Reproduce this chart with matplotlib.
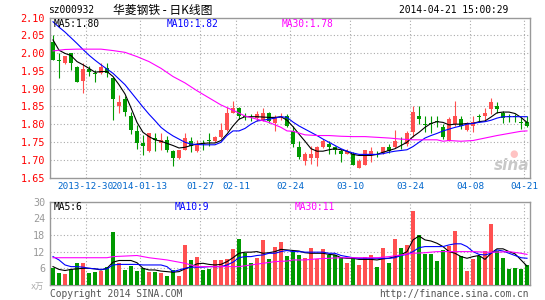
import numpy as np
import matplotlib.pyplot as plt

# daily K data, 2013-12-20 .. 2014-04-21
opens = [2.03, 1.98, 1.971, 2.00, 1.96, 1.922, 1.955, 1.943, 1.943, 1.959,
         1.93, 1.852, 1.872, 1.824, 1.782, 1.746, 1.724, 1.762, 1.746, 1.755,
         1.724, 1.705, 1.727, 1.754, 1.724, 1.745, 1.755, 1.752, 1.763, 1.783,
         1.832, 1.845, 1.822, 1.821, 1.817, 1.811, 1.832, 1.802, 1.818, 1.823,
         1.781, 1.735, 1.696, 1.705, 1.705, 1.735, 1.745, 1.735, 1.724, 1.717,
         1.715, 1.678, 1.686, 1.717, 1.720, 1.718, 1.735, 1.735, 1.745, 1.743,
         1.777, 1.823, 1.800, 1.803, 1.808, 1.793, 1.754, 1.800, 1.814, 1.783,
         1.795, 1.823, 1.823, 1.842, 1.852, 1.832, 1.823, 1.823, 1.806, 1.805]
highs = [2.05, 2.00, 1.993, 2.00, 1.965, 1.972, 1.965, 1.952, 1.973, 1.972,
         1.932, 1.883, 1.88, 1.835, 1.798, 1.77, 1.776, 1.776, 1.774, 1.766,
         1.727, 1.728, 1.776, 1.763, 1.756, 1.756, 1.774, 1.768, 1.802, 1.848,
         1.865, 1.847, 1.832, 1.828, 1.836, 1.846, 1.835, 1.825, 1.832, 1.828,
         1.795, 1.754, 1.721, 1.74, 1.740, 1.757, 1.754, 1.740, 1.731, 1.731,
         1.721, 1.703, 1.728, 1.735, 1.724, 1.737, 1.744, 1.783, 1.763, 1.781,
         1.851, 1.851, 1.823, 1.823, 1.823, 1.800, 1.819, 1.865, 1.823, 1.807,
         1.823, 1.828, 1.846, 1.873, 1.863, 1.837, 1.828, 1.828, 1.819, 1.823]
lows = [1.98, 1.93, 1.968, 1.952, 1.918, 1.888, 1.935, 1.92, 1.94, 1.932,
        1.812, 1.832, 1.822, 1.772, 1.731, 1.713, 1.722, 1.725, 1.727, 1.722,
        1.683, 1.703, 1.726, 1.721, 1.721, 1.728, 1.740, 1.750, 1.762, 1.781,
        1.830, 1.814, 1.812, 1.810, 1.810, 1.809, 1.803, 1.782, 1.812, 1.791,
        1.735, 1.702, 1.684, 1.688, 1.681, 1.733, 1.715, 1.717, 1.693, 1.715,
        1.684, 1.676, 1.684, 1.693, 1.707, 1.716, 1.718, 1.733, 1.730, 1.740,
        1.763, 1.800, 1.777, 1.774, 1.791, 1.759, 1.752, 1.796, 1.786, 1.780,
        1.777, 1.805, 1.810, 1.828, 1.831, 1.802, 1.807, 1.807, 1.787, 1.791]
closes = [1.98, 1.979, 1.992, 1.972, 1.92, 1.954, 1.946, 1.941, 1.96, 1.943,
          1.871, 1.863, 1.833, 1.783, 1.747, 1.739, 1.774, 1.755, 1.755, 1.727,
          1.705, 1.726, 1.762, 1.740, 1.743, 1.744, 1.752, 1.765, 1.783, 1.831,
          1.846, 1.823, 1.819, 1.819, 1.828, 1.832, 1.808, 1.818, 1.821, 1.796,
          1.744, 1.707, 1.716, 1.717, 1.735, 1.753, 1.737, 1.728, 1.717, 1.724,
          1.686, 1.696, 1.726, 1.724, 1.718, 1.735, 1.724, 1.754, 1.743, 1.774,
          1.833, 1.814, 1.799, 1.801, 1.806, 1.765, 1.814, 1.823, 1.795, 1.802,
          1.807, 1.821, 1.832, 1.863, 1.843, 1.818, 1.821, 1.821, 1.804, 1.794]
volumes = [6.0, 4.2, 3.8, 5.8, 7.8, 7.8, 4.2, 4.6, 5.0, 6.6,
           19.0, 7.8, 5.4, 6.8, 5.0, 6.0, 4.8, 4.8, 4.2, 3.4,
           5.4, 3.2, 14.4, 9.0, 10.0, 5.4, 5.8, 9.0, 9.0, 9.4,
           13.0, 16.6, 11.4, 7.8, 9.6, 16.2, 9.2, 13.6, 15.4, 10.4,
           11.8, 10.8, 9.6, 13.2, 9.2, 12.8, 10.8, 10.8, 10.2, 7.8,
           9.6, 7.2, 10.2, 10.6, 6.4, 13.2, 7.8, 16.4, 13.2, 14.4,
           26.6, 17.8, 11.0, 11.0, 8.6, 12.6, 14.0, 19.4, 10.4, 5.0,
           9.2, 10.4, 12.2, 22.0, 12.2, 9.6, 5.8, 6.0, 5.8, 7.2]

# moving average lines as drawn
ma5 = [2.037, 2.008, 1.999, 1.993, 1.976, 1.967, 1.957, 1.946, 1.948, 1.948,
       1.934, 1.911, 1.885, 1.846, 1.805, 1.777, 1.765, 1.756, 1.752, 1.746,
       1.740, 1.733, 1.735, 1.740, 1.744, 1.746, 1.747, 1.747, 1.754, 1.772,
       1.795, 1.814, 1.821, 1.821, 1.821, 1.820, 1.819, 1.819, 1.821, 1.811,
       1.793, 1.772, 1.752, 1.731, 1.724, 1.724, 1.728, 1.731, 1.728, 1.724,
       1.715, 1.712, 1.712, 1.712, 1.715, 1.721, 1.726, 1.731, 1.740, 1.749,
       1.765, 1.777, 1.791, 1.802, 1.807, 1.805, 1.798, 1.800, 1.800, 1.802,
       1.802, 1.807, 1.809, 1.820, 1.832, 1.834, 1.834, 1.830, 1.819, 1.805]
ma10 = [2.088, 2.073, 2.059, 2.043, 2.027, 2.010, 1.994, 1.980, 1.967, 1.955,
        1.943, 1.927, 1.911, 1.890, 1.869, 1.848, 1.828, 1.810, 1.791, 1.778,
        1.767, 1.758, 1.749, 1.744, 1.743, 1.742, 1.742, 1.742, 1.749, 1.768,
        1.781, 1.781, 1.788, 1.800, 1.809, 1.811, 1.814, 1.817, 1.821, 1.819,
        1.806, 1.795, 1.786, 1.777, 1.768, 1.758, 1.749, 1.740, 1.731, 1.724,
        1.719, 1.715, 1.715, 1.715, 1.715, 1.717, 1.721, 1.724, 1.726, 1.728,
        1.737, 1.749, 1.761, 1.768, 1.774, 1.781, 1.786, 1.791, 1.795, 1.800,
        1.802, 1.805, 1.807, 1.811, 1.817, 1.821, 1.821, 1.821, 1.821, 1.821]
ma30_idx = [0, 2, 4, 6, 8, 10, 12, 14, 16, 18, 20, 22, 24, 26, 28, 30, 32, 34,
            36, 38, 39, 40, 42, 44, 46, 48, 50, 52, 54, 56, 58, 60, 62, 64, 65,
            66, 68, 70, 72, 74, 76, 78, 79]
ma30 = [2.006, 2.010, 2.011, 2.011, 2.011, 2.007, 2.002, 1.990, 1.976, 1.957,
        1.934, 1.916, 1.894, 1.874, 1.854, 1.839, 1.823, 1.814, 1.805, 1.791,
        1.781, 1.780, 1.770, 1.768, 1.768, 1.766, 1.765, 1.765, 1.763, 1.761,
        1.758, 1.756, 1.756, 1.756, 1.752, 1.754, 1.752, 1.754, 1.761, 1.768,
        1.774, 1.780, 1.781]

vma5 = [6.6, 5.6, 5.2, 5.6, 5.8, 6.0, 6.0, 5.8, 5.4, 6.0,
        8.2, 8.8, 8.8, 8.8, 8.0, 6.0, 5.4, 5.4, 5.0, 4.8,
        4.6, 4.8, 5.8, 6.6, 7.6, 7.8, 7.4, 7.2, 7.4, 8.4,
        9.8, 11.4, 11.8, 11.8, 12.0, 11.4, 11.6, 12.0, 12.8, 12.6,
        12.4, 12.2, 11.6, 11.4, 11.4, 11.4, 11.0, 10.8, 9.8, 9.6,
        9.6, 9.2, 9.2, 9.2, 9.0, 9.4, 9.6, 10.2, 10.8, 12.0,
        16.2, 17.6, 16.2, 15.8, 15.0, 13.8, 12.0, 11.4, 10.2, 9.6,
        10.2, 10.6, 9.2, 11.4, 13.0, 13.0, 12.0, 11.2, 9.0, 6.8]
vma10 = [10.2, 9.0, 7.2, 6.6, 6.6, 6.4, 6.0, 5.8, 5.6, 5.8,
         7.2, 7.4, 7.4, 7.4, 7.4, 7.2, 7.2, 7.2, 7.2, 6.6,
         4.8, 5.4, 6.0, 6.4, 6.4, 6.4, 6.6, 6.6, 6.6, 7.2,
         8.2, 9.8, 10.2, 10.2, 10.6, 10.8, 11.4, 11.4, 12.0, 12.4,
         12.0, 12.0, 11.8, 11.8, 11.8, 11.8, 11.4, 11.4, 10.6, 10.2,
         9.8, 9.6, 9.6, 9.6, 9.6, 9.6, 9.6, 9.8, 10.6, 11.0,
         12.0, 13.4, 13.8, 13.8, 13.8, 13.8, 14.4, 14.8, 14.8, 13.8,
         12.0, 11.0, 10.8, 11.4, 12.6, 12.2, 11.4, 10.6, 9.8, 9.6]
vma30_idx = [0, 5, 9, 10, 14, 16, 19, 22, 24, 28, 31, 33, 35, 37, 39, 40, 42,
             44, 46, 48, 50, 52, 54, 56, 58, 60, 62, 64, 66, 68, 70, 72, 74,
             76, 78, 79]
vma30 = [9.8, 9.8, 9.8, 10.2, 10.6, 9.8, 9.0, 7.8, 6.6, 6.6, 6.6, 7.2, 7.8,
         8.4, 8.6, 9.0, 9.0, 9.4, 9.6, 9.8, 9.8, 9.8, 9.8, 10.2, 10.8, 11.4,
         11.6, 12.0, 12.0, 12.0, 12.0, 11.8, 11.8, 12.0, 11.4, 11.0]

date_idx = [6, 15, 25, 31, 40, 50, 60, 70, 79]
date_labels = ['2013-12-30', '2014-01-13', '01-27', '02-11', '02-24',
               '03-10', '03-24', '04-08', '04-21']
price_ticks = [1.65, 1.70, 1.75, 1.80, 1.85, 1.90, 1.95, 2.00, 2.05, 2.10]
vol_ticks = [6, 12, 18, 24, 30]

RED = '#ff5050'
GREEN = '#009900'
GRID = '#aaaaaa'
BORDER = '#999999'
MONO = 'DejaVu Sans Mono'
FS = 6.9

W, H = 545, 300
fig = plt.figure(figsize=(W / 100, H / 100), dpi=100)

def px(x, y):
    return x / W, 1 - y / H

ax = fig.add_axes([50 / W, 1 - 177.5 / H, 480 / W, 160 / H])
axv = fig.add_axes([50 / W, 1 - 285 / H, 480 / W, 83.5 / H])

x = np.arange(len(closes))
o = np.array(opens); c = np.array(closes)
cols = [RED if cc > oo else GREEN for oo, cc in zip(o, c)]

# candles
ax.vlines(x, lows, highs, colors=cols, lw=0.8, zorder=3)
body = np.maximum(np.abs(c - o), 0.002)
ax.bar(x, body, bottom=np.minimum(o, c), width=0.83, color=cols, lw=0, zorder=4)
ax.plot(x, ma5, color='black', lw=0.8, zorder=5)
ax.plot(x, ma10, color='#0000ff', lw=0.8, zorder=5)
ax.plot(ma30_idx, ma30, color='#ff00ff', lw=0.8, zorder=5)

# volume
axv.bar(x, volumes, width=0.83, color=cols, lw=0, zorder=3)
axv.plot(x, vma5, color='black', lw=0.8, zorder=5)
axv.plot(x, vma10, color='#0000ff', lw=0.8, zorder=5)
axv.plot(vma30_idx, vma30, color='#ff00ff', lw=0.8, zorder=5)

for a in (ax, axv):
    a.set_xlim(-0.5, len(closes) - 0.5)
    for s in a.spines.values():
        s.set_color(BORDER)
        s.set_linewidth(1)
    for d in date_idx:
        a.axvline(d - 0.5, color=GRID, lw=0.8, ls=(0, (1, 2)), zorder=1)

ax.set_ylim(1.65, 2.10)
for p in price_ticks[1:-1]:
    ax.axhline(p, color=GRID, lw=0.8, ls=(0, (1, 2)), zorder=1)
ax.set_yticks(price_ticks)
ax.set_yticklabels(['%.2f' % p for p in price_ticks], color='red',
                   family=MONO, fontsize=7.3)
ax.set_xticks(np.array(date_idx) - 0.5)
ax.set_xticklabels(date_labels, color='#0066cc', family=MONO, fontsize=6.7)
ax.tick_params(axis='both', length=0)
ax.tick_params(axis='y', pad=3.5)
ax.tick_params(axis='x', pad=3)

axv.set_ylim(0, 30)
for v in vol_ticks[:-1]:
    axv.axhline(v, color=GRID, lw=0.8, ls=(0, (1, 2)), zorder=1)
axv.set_yticks(vol_ticks)
axv.set_yticklabels([str(v) for v in vol_ticks], color='#999999',
                    family=MONO, fontsize=7.3)
axv.set_xticks([])
axv.tick_params(axis='y', length=0, pad=3.5)

# header and labels
fig.text(*px(48, 10), 'sz000932', family=MONO, fontsize=FS, va='center')
fig.text(*px(113, 10), '华菱钢铁 - 日K线图', family=['Noto Sans CJK SC', 'DejaVu Sans'],
         fontsize=8.5, va='center')
fig.text(*px(508, 10), '2014-04-21 15:00:29', family=MONO, fontsize=FS,
         va='center', ha='right')

fig.text(*px(54, 24), 'MA5:1.80', family=MONO, fontsize=FS, va='center', color='black')
fig.text(*px(167, 24), 'MA10:1.82', family=MONO, fontsize=FS, va='center', color='#0000ff')
fig.text(*px(282, 24), 'MA30:1.78', family=MONO, fontsize=FS, va='center', color='#ff00ff')

fig.text(*px(54, 207), 'MA5:6', family=MONO, fontsize=FS, va='center', color='black')
fig.text(*px(175, 207), 'MA10:9', family=MONO, fontsize=FS, va='center', color='#0000ff')
fig.text(*px(295, 207), 'MA30:11', family=MONO, fontsize=FS, va='center', color='#ff00ff')

fig.text(*px(44, 286), 'x万', family=[MONO, 'Noto Sans CJK SC'], fontsize=6,
         va='center', ha='right', color='#aaaaaa')
fig.text(*px(50, 294), 'Copyright 2014 SINA.COM', family=MONO, fontsize=FS,
         va='center', color='#555555')
fig.text(*px(529, 294), 'http://finance.sina.com.cn', family=MONO, fontsize=FS,
         va='center', ha='right', color='#555555')

# watermark
fig.text(*px(512, 165), 'sina', fontsize=11, fontweight='bold', style='italic',
         color='#bbbbbb', ha='center', va='center', alpha=0.8)
fig.text(*px(514, 154), '●', fontsize=7, color='#ffaaaa', ha='center', va='center', alpha=0.7)

fig.savefig('out.png', dpi=100)
